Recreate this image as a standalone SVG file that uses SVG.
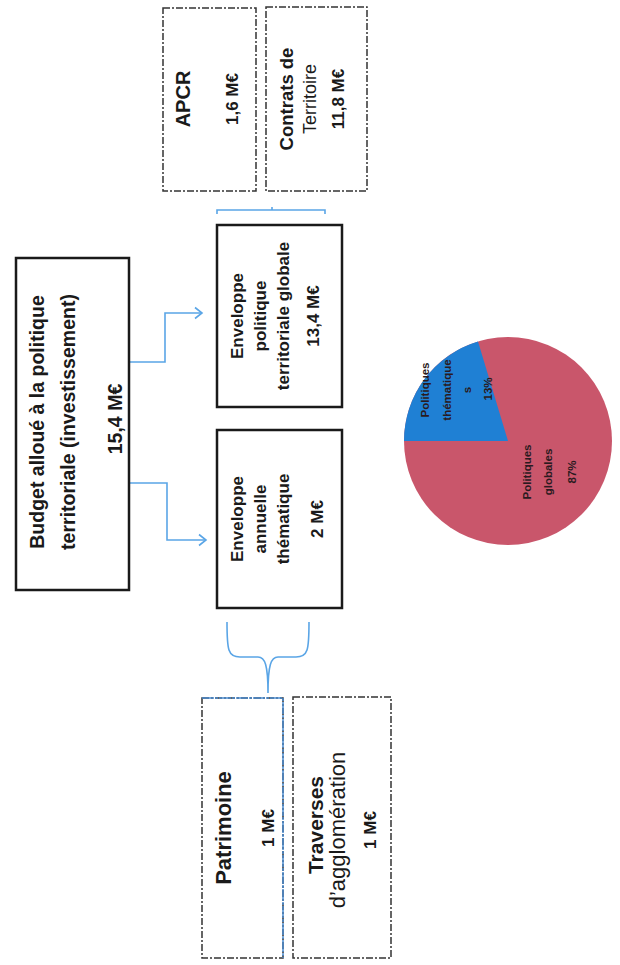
<svg xmlns="http://www.w3.org/2000/svg" width="620" height="965" viewBox="0 0 620 965">
<style>
.bg{fill:#ffffff}
.solid{fill:#ffffff;stroke:#1a1a1a;stroke-width:2.5}
.dash{fill:#ffffff;stroke:#333333;stroke-width:1.5;stroke-dasharray:7 2 2 2}
.conn{fill:none;stroke:#5aa5e6;stroke-width:1.6}
text{font-family:"Liberation Sans",Arial,sans-serif;fill:#1a1a1a;text-anchor:middle}
.b{font-weight:bold}
.pl{font-size:11.5px;font-weight:bold;fill:#2a1a20}
</style>
<rect class="bg" x="0" y="0" width="620" height="965"/>

<g id="connectors">
  <path class="conn" d="M129 362 H165 V313 H201"/>
  <path class="conn" d="M195 307.5 L202 313 L195 318.5"/>
  <path class="conn" d="M129 483 H167 V540 H206"/>
  <path class="conn" d="M199 534.5 L206 540 L199 545.5"/>
  <path class="conn" d="M217 214 V210 H325 V214 M272 210 V207"/>
  <path class="conn" d="M227 622 C227 650 228 657 240 657 H258 C265 657 268 665 268 693 M309 622 C309 650 308 657 296 657 H278 C271 657 268 665 268 693"/>
</g>

<g id="budget">
  <rect class="solid" x="16" y="258" width="113" height="332"/>
  <text class="b" font-size="19.5" transform="translate(44,422) rotate(-90)">Budget alloué à la politique</text>
  <text class="b" font-size="19.5" transform="translate(75,422) rotate(-90)">territoriale (investissement)</text>
  <text class="b" font-size="19.5" transform="translate(122,419) rotate(-90)">15,4 M€</text>
</g>

<g id="enveloppe-globale">
  <rect class="solid" x="217" y="225" width="125" height="182"/>
  <text class="b" font-size="17" transform="translate(243,316) rotate(-90)">Enveloppe</text>
  <text class="b" font-size="17" transform="translate(266,316) rotate(-90)">politique</text>
  <text class="b" font-size="17" transform="translate(289,316) rotate(-90)">territoriale globale</text>
  <text class="b" font-size="17" transform="translate(319,316) rotate(-90)">13,4 M€</text>
</g>

<g id="enveloppe-thematique">
  <rect class="solid" x="217" y="430" width="125" height="178"/>
  <text class="b" font-size="17" transform="translate(243,519) rotate(-90)">Enveloppe</text>
  <text class="b" font-size="17" transform="translate(266,519) rotate(-90)">annuelle</text>
  <text class="b" font-size="17" transform="translate(289,519) rotate(-90)">thématique</text>
  <text class="b" font-size="17" transform="translate(323,519) rotate(-90)">2 M€</text>
</g>

<g id="apcr">
  <rect class="dash" x="163" y="8" width="93" height="183"/>
  <text class="b" font-size="20" transform="translate(190,99) rotate(-90)">APCR</text>
  <text class="b" font-size="17" transform="translate(238,99) rotate(-90)">1,6 M€</text>
</g>

<g id="contrats">
  <rect class="dash" x="266" y="7" width="101" height="184"/>
  <text class="b" font-size="18.5" transform="translate(293,99) rotate(-90)">Contrats de</text>
  <text font-size="18" transform="translate(316,99) rotate(-90)">Territoire</text>
  <text class="b" font-size="17" transform="translate(344,99) rotate(-90)">11,8 M€</text>
</g>

<g id="patrimoine">
  <rect class="dash" x="202" y="698" width="81" height="260"/>
  <path d="M202 698 H283 V958" fill="none" stroke="#4a8ad0" stroke-width="1.5" stroke-dasharray="12 1 3 1"/>
  <text class="b" font-size="22" transform="translate(231,828) rotate(-90)">Patrimoine</text>
  <text class="b" font-size="17" transform="translate(274,828) rotate(-90)">1 M€</text>
</g>

<g id="traverses">
  <rect class="dash" x="293" y="697" width="98" height="261"/>
  <text class="b" font-size="21" transform="translate(323,825) rotate(-90)">Traverses</text>
  <text font-size="22" transform="translate(345,830) rotate(-90)">d’agglomération</text>
  <text class="b" font-size="17" transform="translate(376,830) rotate(-90)">1 M€</text>
</g>

<g id="pie">
  <circle cx="508" cy="441" r="104" fill="#c9566b"/>
  <path d="M508 441 L404 441 A104 104 0 0 1 478 341.5 Z" fill="#1f80d4"/>
  <text class="pl" transform="translate(429,390) rotate(-90)">Politiques</text>
  <text class="pl" transform="translate(451,390) rotate(-90)">thématique</text>
  <text class="pl" transform="translate(471,390) rotate(-90)">s</text>
  <text class="pl" transform="translate(492,389) rotate(-90)">13%</text>
  <text class="pl" transform="translate(531,472) rotate(-90)">Politiques</text>
  <text class="pl" transform="translate(552,472) rotate(-90)">globales</text>
  <text class="pl" transform="translate(576,472) rotate(-90)">87%</text>
</g>
</svg>
